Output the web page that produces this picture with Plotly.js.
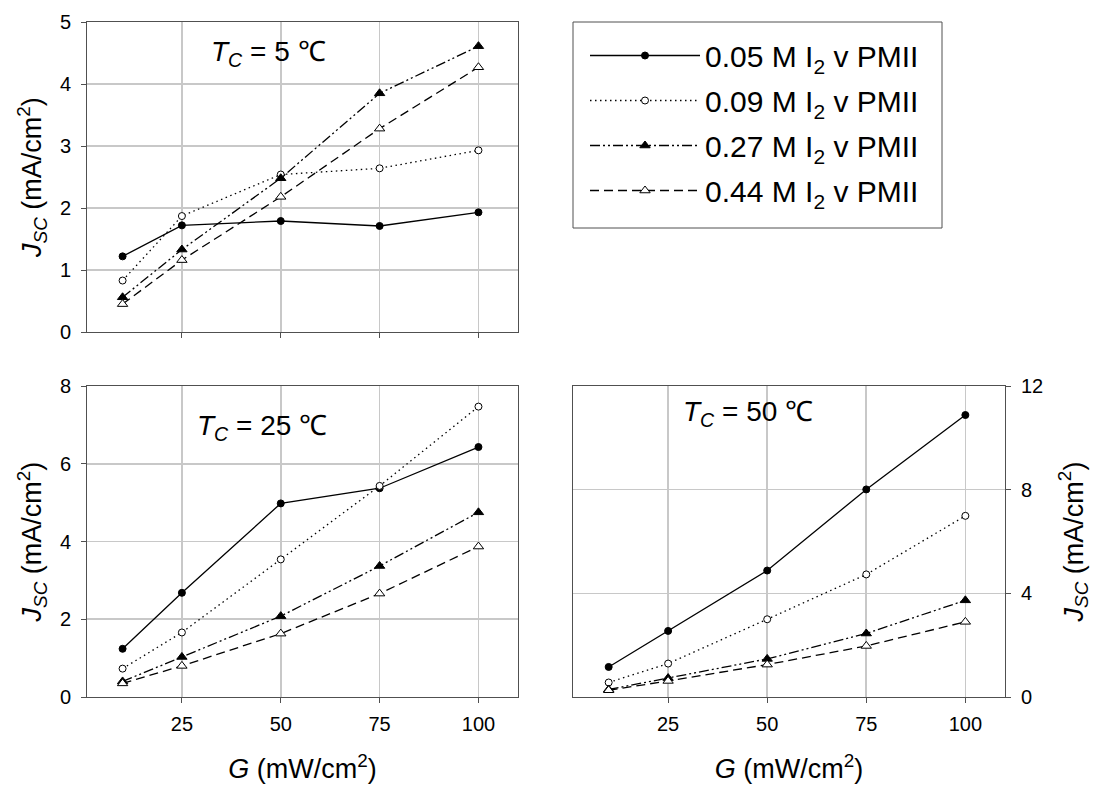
<!DOCTYPE html>
<html>
<head>
<meta charset="utf-8">
<script src="https://cdn.plot.ly/plotly-3.0.1.min.js"></script>
<style>html,body{margin:0;padding:0;background:#fff;}#chart{width:1099px;height:792px;}</style>
</head>
<body>
<div id="chart"></div>
<script>
// Irradiance G (mW/cm2)
var G = [10, 25, 50, 75, 100];
var seriesNames = ["0.05 M I<sub>2</sub> v PMII", "0.09 M I<sub>2</sub> v PMII", "0.27 M I<sub>2</sub> v PMII", "0.44 M I<sub>2</sub> v PMII"];
var panelLabels = ["<i>T</i><sub><i>C</i></sub> = 5 ℃", "<i>T</i><sub><i>C</i></sub> = 25 ℃", "<i>T</i><sub><i>C</i></sub> = 50 ℃"];
// Jsc (mA/cm2) at Tc = 5 C
var tc5_005 = [1.22, 1.72, 1.79, 1.71, 1.93];
var tc5_009 = [0.83, 1.87, 2.54, 2.64, 2.93];
var tc5_027 = [0.56, 1.33, 2.48, 3.85, 4.61];
var tc5_044 = [0.45, 1.16, 2.18, 3.28, 4.27];
// Tc = 25 C
var tc25_005 = [1.24, 2.68, 4.98, 5.37, 6.43];
var tc25_009 = [0.73, 1.66, 3.54, 5.43, 7.47];
var tc25_027 = [0.40, 1.03, 2.08, 3.37, 4.75];
var tc25_044 = [0.35, 0.80, 1.63, 2.66, 3.87];
// Tc = 50 C
var tc50_005 = [1.16, 2.55, 4.88, 8.01, 10.88];
var tc50_009 = [0.56, 1.29, 3.00, 4.73, 6.99];
var tc50_027 = [0.29, 0.73, 1.47, 2.45, 3.73];
var tc50_044 = [0.26, 0.62, 1.25, 1.97, 2.90];
var xTicks = [25, 50, 75, 100];

var styles = [
  {dash: "solid", symbol: "circle", fill: "#000", size: 7},
  {dash: "1.5px,3.5px", symbol: "circle", fill: "#fff", size: 7},
  {dash: "10px,3px,2px,3px,2px,3px", symbol: "triangle-up", fill: "#000", size: 9},
  {dash: "9px,5px", symbol: "triangle-up", fill: "#fff", size: 9}
];
var panels = [
  {data: [tc5_005, tc5_009, tc5_027, tc5_044], xa: "x", ya: "y"},
  {data: [tc25_005, tc25_009, tc25_027, tc25_044], xa: "x2", ya: "y2"},
  {data: [tc50_005, tc50_009, tc50_027, tc50_044], xa: "x3", ya: "y3"}
];
var traces = [];
panels.forEach(function (p, pi) {
  p.data.forEach(function (vals, si) {
    var st = styles[si];
    traces.push({
      x: G, y: vals, xaxis: p.xa, yaxis: p.ya,
      type: "scatter", mode: "lines+markers",
      name: seriesNames[si], legendgroup: "g" + si,
      showlegend: pi === 0,
      line: {color: "#000", width: 1.3, dash: st.dash},
      marker: {symbol: st.symbol, size: st.size, color: st.fill, line: {color: "#000", width: 1}},
      cliponaxis: false
    });
  });
});

var FONT = "Liberation Sans, Arial, Helvetica, sans-serif";
var W = 1099, H = 792;
function fx(px) { return px / W; }
function fy(px) { return 1 - px / H; }
var axBase = {
  showline: true, mirror: true, linecolor: "#505050", linewidth: 1,
  showgrid: true, gridcolor: "#c8c8c8", gridwidth: 1.6,
  ticks: "outside", ticklen: 5, tickcolor: "#505050",
  zeroline: false, tickfont: {family: FONT, size: 20, color: "#000"}
};
function xax(domain, labels, title, anchor) {
  var a = Object.assign({}, axBase, {
    domain: domain, range: [1, 110], tickmode: "array", tickvals: xTicks,
    showticklabels: labels, anchor: anchor, ticklabelstandoff: 4
  });
  if (title) a.title = {text: "<i>G</i> (mW/cm<sup>2</sup>)", font: {family: FONT, size: 27, color: "#000"}, standoff: 25};
  return a;
}
function yax(domain, range, dtick, side, anchor, standoff) {
  return Object.assign({}, axBase, {
    domain: domain, range: range, dtick: dtick, tick0: 0, side: side, anchor: anchor,
    ticklabelstandoff: 6,
    title: {text: "<i>J</i><sub><i>SC</i></sub> (mA/cm<sup>2</sup>)", font: {family: FONT, size: 27, color: "#000"}, standoff: standoff}
  });
}
var xl = [fx(87), fx(518)], xr = [fx(573), fx(1005)];
var yt = [fy(332), fy(22)], yb = [fy(697), fy(386)];
var annFont = {family: FONT, size: 28, color: "#000"};

var layout = {
  width: W, height: H,
  margin: {l: 0, r: 0, t: 0, b: 0},
  paper_bgcolor: "#fff", plot_bgcolor: "#fff",
  font: {family: FONT, color: "#000"},
  showlegend: true,
  legend: {
    x: fx(585), y: fy(29.5), xanchor: "left", yanchor: "top",
    bgcolor: "rgba(0,0,0,0)", borderwidth: 0,
    font: {family: FONT, size: 30, color: "#000"},
    traceorder: "grouped", tracegroupgap: 3, itemwidth: 110
  },
  shapes: [
    {type: "rect", xref: "paper", yref: "paper", x0: fx(573), x1: fx(942), y0: fy(228), y1: fy(22),
     line: {color: "#505050", width: 1}, fillcolor: "rgba(0,0,0,0)", layer: "below"}
  ],
  xaxis: xax(xl, false, false, "y"),
  yaxis: yax(yt, [0, 5], 1, "left", "x", 10),
  xaxis2: xax(xl, true, true, "y2"),
  yaxis2: yax(yb, [0, 8], 2, "left", "x2", 10),
  xaxis3: xax(xr, true, true, "y3"),
  yaxis3: yax(yb, [0, 12], 4, "right", "x3", 21),
  annotations: [
    {xref: "x domain", yref: "y domain", x: 0.42, y: 0.90, xanchor: "center", yanchor: "middle", text: panelLabels[0], showarrow: false, font: annFont},
    {xref: "x2 domain", yref: "y2 domain", x: 0.405, y: 0.865, xanchor: "center", yanchor: "middle", text: panelLabels[1], showarrow: false, font: annFont},
    {xref: "x3 domain", yref: "y3 domain", x: 0.404, y: 0.913, xanchor: "center", yanchor: "middle", text: panelLabels[2], showarrow: false, font: annFont}
  ]
};
Plotly.newPlot("chart", traces, layout, {displayModeBar: false, staticPlot: true});
</script>
</body>
</html>
